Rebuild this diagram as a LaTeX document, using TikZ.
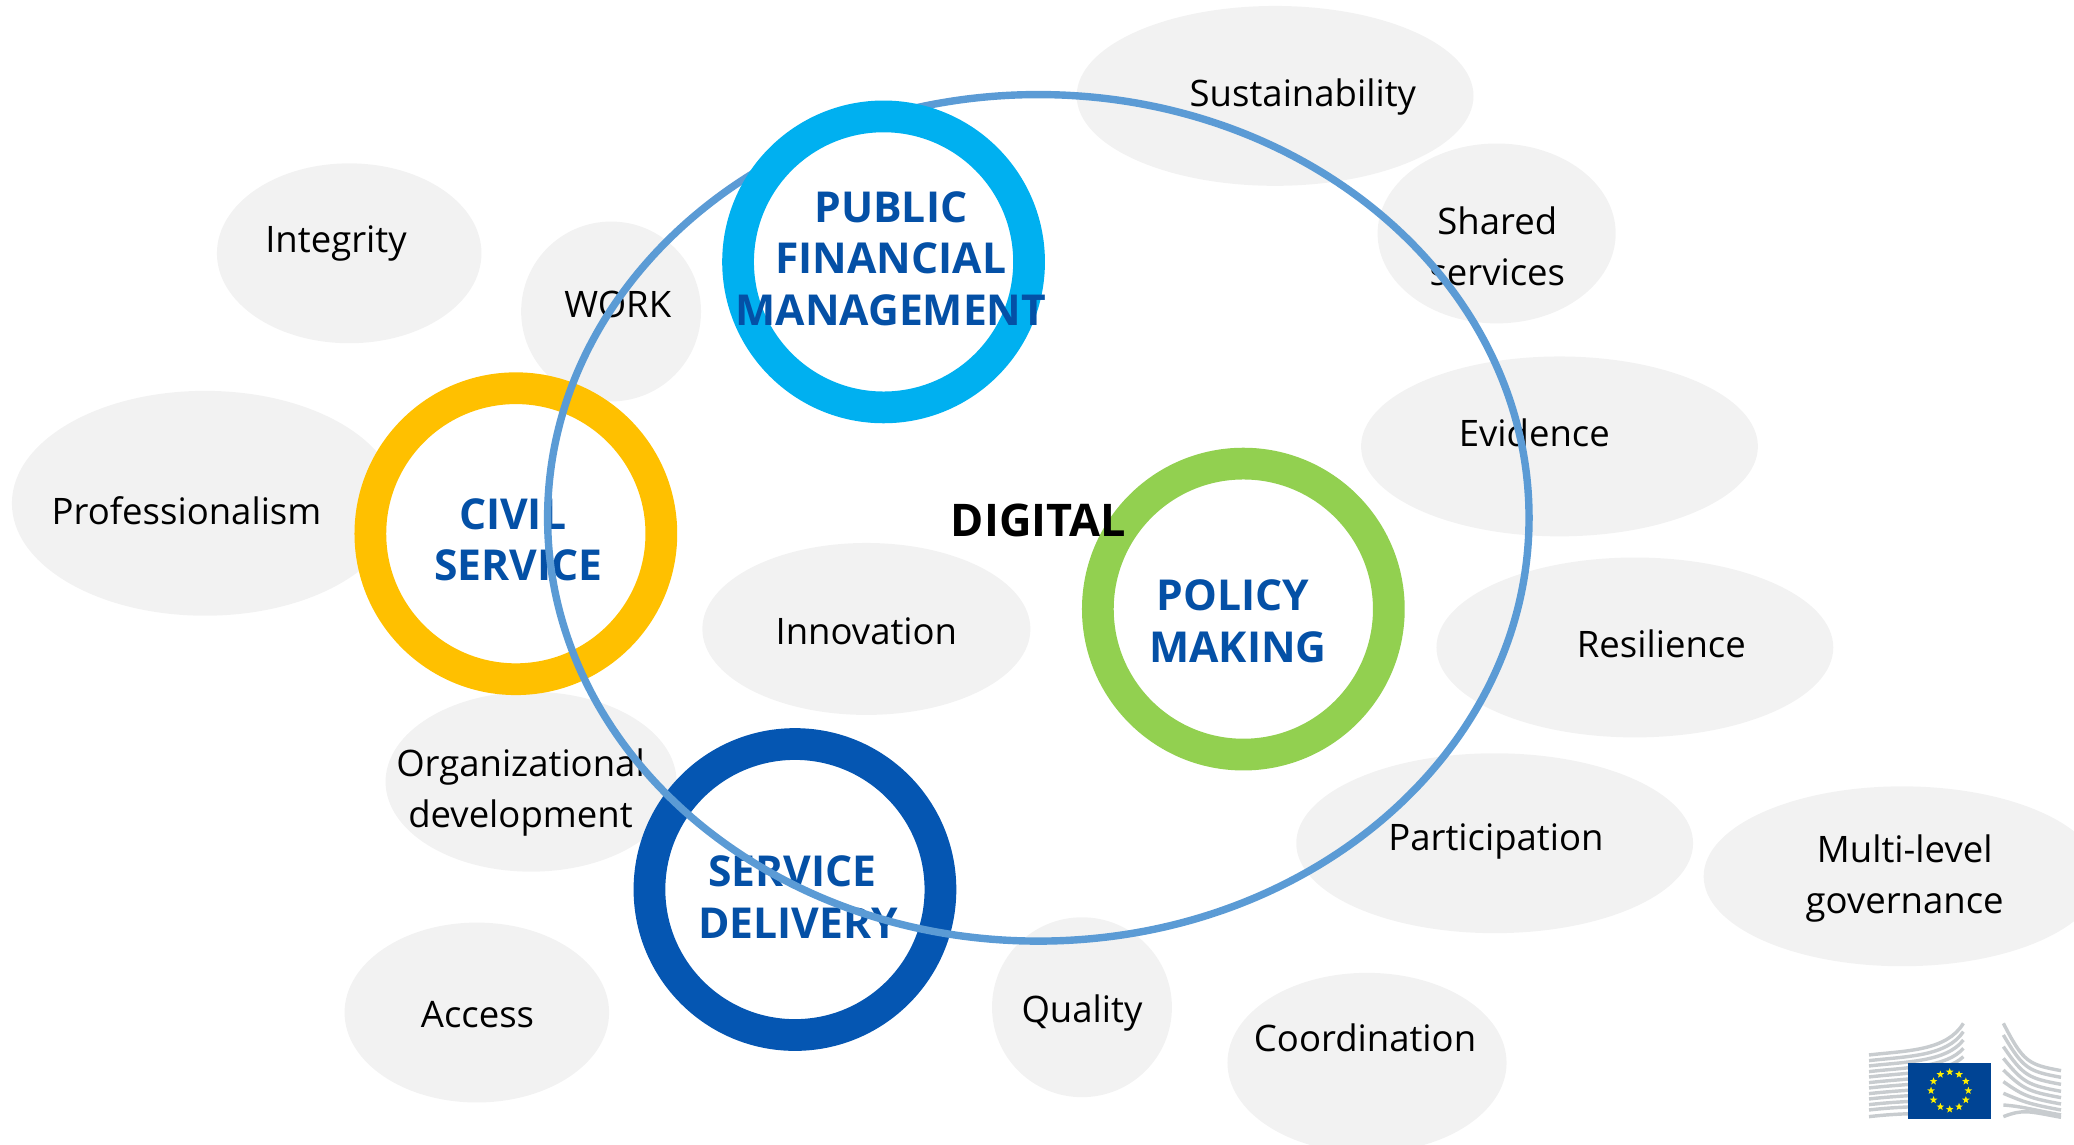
\documentclass[tikz,border=0pt]{standalone}
\usepackage{fontspec}
\setmainfont{Open Sans}
\usetikzlibrary{shapes.geometric,calc}
\definecolor{blobgrey}{HTML}{F2F2F2}
\definecolor{headblue}{HTML}{0450A6}
\definecolor{ringsky}{HTML}{00B0F0}
\definecolor{ringgold}{HTML}{FFC000}
\definecolor{ringgreen}{HTML}{92D050}
\definecolor{ringblue}{HTML}{0556B2}
\definecolor{digiline}{HTML}{5B9BD5}
\definecolor{eublue}{HTML}{004494}
\definecolor{eustar}{HTML}{FFF000}
\definecolor{stripegrey}{HTML}{C8CCCF}
\tikzset{
  blob/.style={ellipse,fill=blobgrey,draw=none,inner sep=0pt,outer sep=0pt},
  lab/.style={align=center,inner sep=0pt,text=black,font=\fontsize{13.8}{19.4}\selectfont},
  head/.style={align=center,inner sep=0pt,text=headblue,font=\bfseries\fontsize{16.1}{19.5}\selectfont},
  ringnode/.style={circle,fill=white,line width=12pt,minimum size=110pt,inner sep=0pt,outer sep=0pt},
  stripe/.style={draw=stripegrey,line width=1.3pt},
  eustarshape/.style={star,star points=5,star point ratio=2.4,fill=eustar,inner sep=0pt,minimum size=3pt}
}
\newcommand{\blobat}[5]{\node[blob,minimum width=#4pt,minimum height=#5pt] (#1) at (#2,#3) {};}
\begin{document}
\begin{tikzpicture}[x=0.5pt,y=-0.5pt]
\useasboundingbox (0,0) rectangle (1568,865.6);
\begin{scope}
\clip (0,0) rectangle (1568,865.6);
\blobat{bSust}{964}{72.5}{150}{68}
\blobat{bShared}{1131.5}{176.5}{90}{68}
\blobat{bEvid}{1179}{337.5}{150}{68}
\blobat{bResil}{1236}{489.5}{150}{68}
\blobat{bPart}{1130}{637.5}{150}{68}
\blobat{bMulti}{1438}{662.5}{150}{68}
\blobat{bCoord}{1033.5}{803.5}{105.5}{68}
\blobat{bQual}{818}{761.5}{68}{68}
\blobat{bAccess}{360.5}{765.5}{100}{68}
\blobat{bOrg}{401.5}{591}{110}{68}
\blobat{bInno}{655}{475.5}{124}{65}
\blobat{bProf}{155}{380.5}{146}{85}
\blobat{bInteg}{264}{191.5}{100}{68}
\blobat{bWork}{462}{235.5}{68}{68}
\end{scope}
\node[lab] (tSust) at (985,73) {Sustainability};
\node[lab] (tShared) at (1132,186) {Shared\\services};
\node[lab] (tInteg) at (254,184) {Integrity};
\node[lab] (tWork) at (467,230) {WORK};
\node[lab] (tProf) at (141,386) {Professionalism};
\node[lab] (tEvid) at (1160,327.5) {Evidence};
\node[lab] (tInno) at (655,477) {Innovation};
\node[lab] (tResil) at (1256,487) {Resilience};
\node[lab] (tOrg) at (393.5,599) {Organizational\\development};
\node[lab] (tPart) at (1131,636) {Participation};
\node[lab] (tMulti) at (1440,664) {Multi-level\\governance};
\node[lab] (tAccess) at (361,767) {Access};
\node[lab] (tQual) at (818,766) {Quality};
\node[lab] (tCoord) at (1032,784.5) {Coordination};
\node[ringnode,draw=ringgold] (rCivil) at (390,403.5) {};
\node[head] (tCivil) at (392,408) {CIVIL\hspace*{4.5pt}\\SERVICE};
\node[ringnode,draw=ringblue] (rServ) at (601,672.5) {};
\node[head] (tServ) at (603.5,678) {SERVICE\hspace*{4.5pt}\\DELIVERY};
\node[ellipse,draw=digiline,line width=2.8pt,minimum width=371pt,minimum height=320pt,inner sep=0pt,outer sep=0pt] (digi) at (785,391.5) {};
\node[ringnode,draw=ringsky] (rPfm) at (668,198) {};
\node[head] (tPfm) at (673.5,195.5) {PUBLIC\\FINANCIAL\hspace*{5pt}\\MANAGEMENT};
\node[ringnode,draw=ringgreen] (rPol) at (940,460.5) {};
\node[head] (tPol) at (936,469.5) {POLICY\hspace*{4pt}\\MAKING};
\node[inner sep=0pt,font=\bfseries\fontsize{17}{20}\selectfont] (tDig) at (785,393.5) {DIGITAL};
% emblem
\begin{scope}[shift={(1391.1,756.0)},x=0.126pt,y=-0.126pt]
\foreach \a/\b in {165/70,182/95,198/120,215/145,231/170,248/195,264/220,281/245,297/270,314/295,330/320,350/350}
  \draw[stripe] (87,\a) .. controls (200,\a-13) and (320,\a-12) .. (370,\b);
\foreach \a/\c in {70/212,105/232,140/253,175/274,210/293,245/312,280/330,315/345,350/352}
  \draw[stripe] (490,\a) .. controls (550,\c-25) and (565,\c-18) .. (663,\c);
\node[fill=eublue,inner sep=0pt,outer sep=0pt,minimum width=31.2pt,minimum height=21.2pt] (flag) at (329,272) {};
\foreach \k in {0,...,11}
  \node[eustarshape] (s\k) at ($(flag.center)+(\k*30:56 and 56)$) {};
\end{scope}
\end{tikzpicture}
\end{document}
